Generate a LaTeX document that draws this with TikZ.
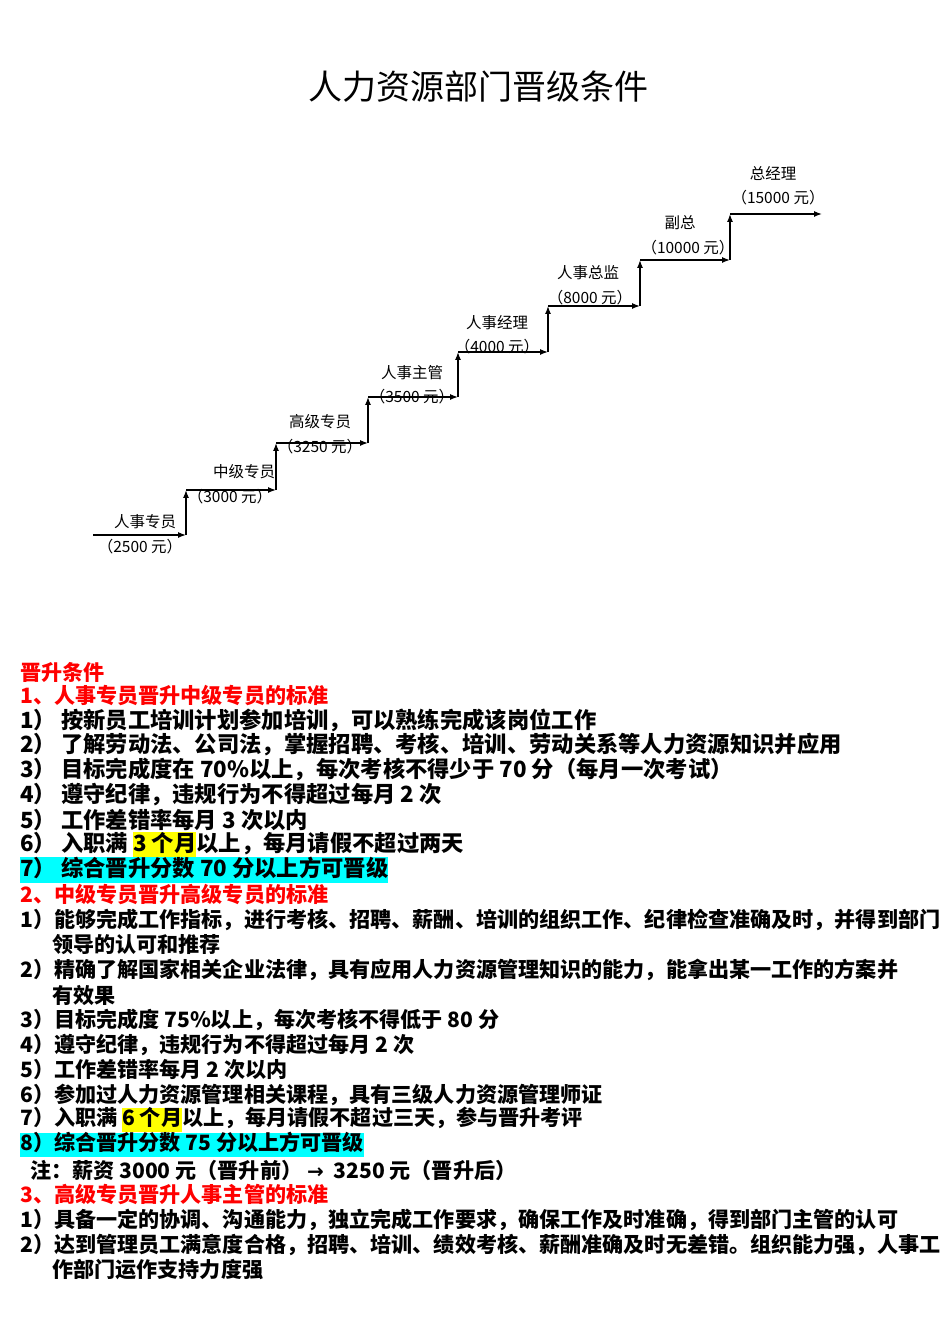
\documentclass[tikz,border=0pt]{standalone}
\usepackage{fontspec}
\usetikzlibrary{arrows.meta}
\setmainfont{Noto Sans CJK SC}
\newfontfamily\dvs{DejaVu Sans}
\definecolor{hlcyan}{RGB}{0,255,255}
\definecolor{hlyel}{RGB}{255,255,0}
\newcommand{\hl}[2]{{\setlength{\fboxsep}{0pt}\colorbox{#1}{\strut #2}}}
\begin{document}
\begin{tikzpicture}[x=1pt,y=1pt,
  lbl/.style={font=\fontsize{15.5}{15.5}\selectfont},
  ln/.style={anchor=west,inner sep=0pt,font=\fontsize{21.1}{21.5}\selectfont\bfseries},
  wide/.style={font=\fontsize{22.3}{22.5}\selectfont\bfseries},
  red/.style={text=red},
  st/.style={line width=1.3pt,-{Latex[length=8pt,width=6pt]}}]
\useasboundingbox (0,0) rectangle (950,1344);
\node[font=\fontsize{34}{34}\selectfont] (title) at (478,1257) {人力资源部门晋级条件};
% staircase
\coordinate (s0) at (93,809);
\foreach \i/\x/\y in {1/186/809,2/276/854,3/368/901,4/458/947,5/548/992,6/640/1038,7/730/1084}{
  \coordinate (h\i) at (\x,\y);}
\foreach \i/\x/\y in {1/186/854,2/276/901,3/368/947,4/458/992,5/548/1038,6/640/1084,7/730/1130}{
  \coordinate (v\i) at (\x,\y);}
\coordinate (end) at (822,1130);
\draw[st] (s0) -- (h1);
\foreach \i in {1,...,7}{\draw[st] (h\i) -- (v\i);}
\draw[st] (v1) -- (h2); \draw[st] (v2) -- (h3); \draw[st] (v3) -- (h4);
\draw[st] (v4) -- (h5); \draw[st] (v5) -- (h6); \draw[st] (v6) -- (h7);
\draw[st] (v7) -- (end);
\node[lbl] (a1) at (145,822) {人事专员};
\node[lbl] (b1) at (140,797) {（2500 元）};
\node[lbl] (a2) at (244,872) {中级专员};
\node[lbl] (b2) at (230,847) {（3000 元）};
\node[lbl] (a3) at (320,922) {高级专员};
\node[lbl] (b3) at (320,897) {（3250 元）};
\node[lbl] (a4) at (412,971) {人事主管};
\node[lbl] (b4) at (412,947) {（3500 元）};
\node[lbl] (a5) at (497,1021) {人事经理};
\node[lbl] (b5) at (497,997) {（4000 元）};
\node[lbl] (a6) at (588,1071) {人事总监};
\node[lbl] (b6) at (590,1046) {（8000 元）};
\node[lbl] (a7) at (680,1121) {副总};
\node[lbl] (b7) at (688,1096) {（10000 元）};
\node[lbl] (a8) at (773,1170) {总经理};
\node[lbl] (b8) at (778,1146) {（15000 元）};
% text
\node[ln,red] (t0) at (20,672) {晋升条件};
\node[ln,red] (t1) at (20,648) {1、人事专员晋升中级专员的标准};
\node[ln,wide] (t2) at (20,624) {1） 按新员工培训计划参加培训，可以熟练完成该岗位工作};
\node[ln,wide] (t3) at (20,599) {2） 了解劳动法、公司法，掌握招聘、考核、培训、劳动关系等人力资源知识并应用};
\node[ln,wide] (t4) at (20,574) {3） 目标完成度在 70\%以上，每次考核不得少于 70 分（每月一次考试）};
\node[ln,wide] (t5) at (20,549) {4） 遵守纪律，违规行为不得超过每月 2 次};
\node[ln,wide] (t6) at (20,524) {5） 工作差错率每月 3 次以内};
\node[ln,wide] (t7) at (20,499) {6） 入职满 \hl{hlyel}{3 个月}以上，每月请假不超过两天};
\node[ln,wide] (t8) at (20,474) {\hl{hlcyan}{7） 综合晋升分数 70 分以上方可晋级}};
\node[ln,red] (t9) at (20,449) {2、中级专员晋升高级专员的标准};
\node[ln] (t10) at (20,424) {1）能够完成工作指标，进行考核、招聘、薪酬、培训的组织工作、纪律检查准确及时，并得到部门};
\node[ln] (t11) at (52,399) {领导的认可和推荐};
\node[ln] (t12) at (20,374) {2）精确了解国家相关企业法律，具有应用人力资源管理知识的能力，能拿出某一工作的方案并};
\node[ln] (t13) at (52,349) {有效果};
\node[ln] (t14) at (20,324) {3）目标完成度 75\%以上，每次考核不得低于 80 分};
\node[ln] (t15) at (20,299) {4）遵守纪律，违规行为不得超过每月 2 次};
\node[ln] (t16) at (20,274) {5）工作差错率每月 2 次以内};
\node[ln] (t17) at (20,249) {6）参加过人力资源管理相关课程，具有三级人力资源管理师证};
\node[ln] (t18) at (20,224) {7）入职满 \hl{hlyel}{6 个月}以上，每月请假不超过三天，参与晋升考评};
\node[ln] (t19) at (20,199) {\hl{hlcyan}{8）综合晋升分数 75 分以上方可晋级}};
\node[ln] (t20) at (30,174) {注：薪资 3000 元（晋升前） {\dvs\fontsize{20}{20}\selectfont →}\ \ 3250 元（晋升后）};
\node[ln,red] (t21) at (20,149) {3、高级专员晋升人事主管的标准};
\node[ln] (t22) at (20,124) {1）具备一定的协调、沟通能力，独立完成工作要求，确保工作及时准确，得到部门主管的认可};
\node[ln] (t23) at (20,99) {2）达到管理员工满意度合格，招聘、培训、绩效考核、薪酬准确及时无差错。组织能力强，人事工};
\node[ln] (t24) at (52,74) {作部门运作支持力度强};
\end{tikzpicture}
\end{document}
